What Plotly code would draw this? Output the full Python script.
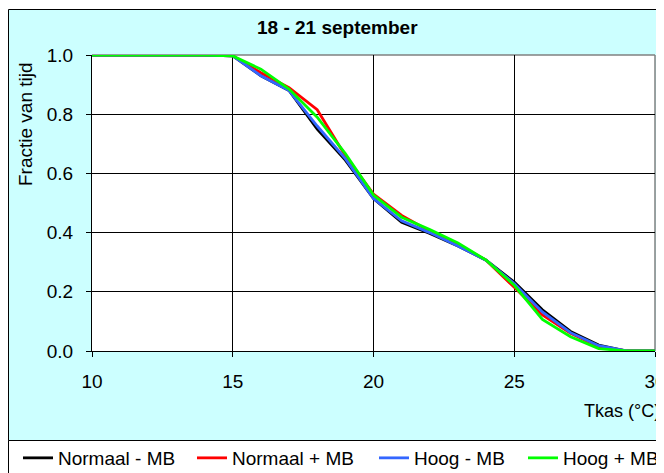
import plotly.graph_objects as go

x_vals = list(range(10, 31))
normaal_min = [1, 1, 1, 1, 1, 0.997, 0.93, 0.88, 0.75, 0.645, 0.515, 0.435, 0.397, 0.355, 0.307, 0.233, 0.139, 0.066, 0.02, 0.0, 0.0]
normaal_plus = [1, 1, 1, 1, 1, 0.997, 0.94, 0.89, 0.815, 0.66, 0.53, 0.458, 0.405, 0.36, 0.307, 0.215, 0.122, 0.06, 0.015, 0.0, 0.0]
hoog_min = [1, 1, 1, 1, 1, 0.997, 0.93, 0.88, 0.76, 0.65, 0.515, 0.44, 0.4, 0.355, 0.307, 0.228, 0.132, 0.062, 0.018, 0.0, 0.0]
hoog_plus = [1, 1, 1, 1, 1, 0.997, 0.952, 0.885, 0.79, 0.667, 0.527, 0.452, 0.41, 0.365, 0.307, 0.222, 0.107, 0.048, 0.008, 0.0, 0.0]

series_names = ["Normaal - MB", "Normaal + MB", "Hoog - MB", "Hoog + MB"]
series_values = [normaal_min, normaal_plus, hoog_min, hoog_plus]
series_colors = ["#000000", "#FF0000", "#3366FF", "#00FF00"]

title_text = "18 - 21 september"
y_title = "Fractie van tijd"
x_title = "Tkas (°C)"

# the page body has an 8px margin, so the figure is 8px smaller and
# reference pixel positions are converted with that offset in mind
W, H = 656, 465
L, R, T, B = 84, 647, 47, 343
pw, ph = R - L, B - T

def fx(xr):  # reference pixel x -> paper
    return (xr - 8 - L) / pw

def fy(yr):  # reference pixel y -> paper
    return (B - (yr - 8)) / ph

FONT = "Liberation Sans, Arial, sans-serif"
FS = 19

legend_text_x = [59, 233, 415, 564]
legend_keys = ["legend", "legend2", "legend3", "legend4"]

fig = go.Figure()
for name, vals, col, key in zip(series_names, series_values, series_colors, legend_keys):
    fig.add_trace(go.Scatter(x=x_vals, y=vals, mode="lines", name=name, legend=key,
                             line=dict(color=col, width=2.8)))

legend_layout = {}
for key, tx in zip(legend_keys, legend_text_x):
    legend_layout[key] = dict(orientation="h", x=fx(tx - 41), y=fy(458), xanchor="left",
                              yanchor="middle", bgcolor="rgba(0,0,0,0)",
                              font=dict(size=FS, family=FONT), itemwidth=30)

fig.update_layout(
    width=W, height=H,
    margin=dict(l=L, r=W - R, t=T, b=H - B, pad=0, autoexpand=False),
    paper_bgcolor="white",
    plot_bgcolor="white",
    font=dict(family=FONT, size=FS, color="black"),
    showlegend=True,
    xaxis=dict(range=[10, 30], dtick=5, showgrid=True, gridcolor="#000000", gridwidth=1,
               showline=True, linecolor="black", linewidth=1, ticks="outside",
               ticklen=5, tickcolor="black", zeroline=False, ticklabelstandoff=8,
               ticklabeloverflow="allow", tickfont=dict(size=FS), automargin=False),
    yaxis=dict(range=[0, 1.0], dtick=0.2, tickformat=".1f", showgrid=True,
               gridcolor="#000000", gridwidth=1, showline=True, linecolor="black",
               linewidth=1, ticks="outside", ticklen=5, tickcolor="black",
               zeroline=False, ticklabelstandoff=9, tickfont=dict(size=FS), automargin=False),
    shapes=[
        dict(type="rect", xref="paper", yref="paper", x0=fx(8.5), x1=fx(680), y0=fy(440.5), y1=fy(9.5),
             fillcolor="#CCFFFF", line=dict(color="black", width=1), layer="below"),
        dict(type="rect", xref="paper", yref="paper", x0=fx(8.5), x1=fx(680), y0=fy(490), y1=fy(440.5),
             fillcolor="white", line=dict(color="black", width=1), layer="below"),
        dict(type="rect", xref="paper", yref="paper", x0=0, x1=1, y0=0, y1=1,
             fillcolor="white", line=dict(width=0), layer="below"),
        dict(type="line", xref="paper", yref="paper", x0=0, x1=1, y0=1, y1=1,
             line=dict(color="#808080", width=1.5), layer="between"),
        dict(type="line", xref="paper", yref="paper", x0=1, x1=1, y0=0, y1=1,
             line=dict(color="#808080", width=1.5), layer="between"),
    ],
    annotations=[
        dict(text="<b>" + title_text + "</b>", xref="paper", yref="paper", x=fx(337), y=fy(27),
             xanchor="center", yanchor="middle", showarrow=False, font=dict(size=FS)),
        dict(text=y_title, xref="paper", yref="paper", x=fx(25), y=fy(124), textangle=-90,
             xanchor="center", yanchor="middle", showarrow=False, font=dict(size=FS)),
        dict(text=x_title, xref="paper", yref="paper", x=fx(662), y=fy(411),
             xanchor="right", yanchor="middle", showarrow=False, font=dict(size=18)),
    ],
    **legend_layout,
)

fig.write_html("out.html")
